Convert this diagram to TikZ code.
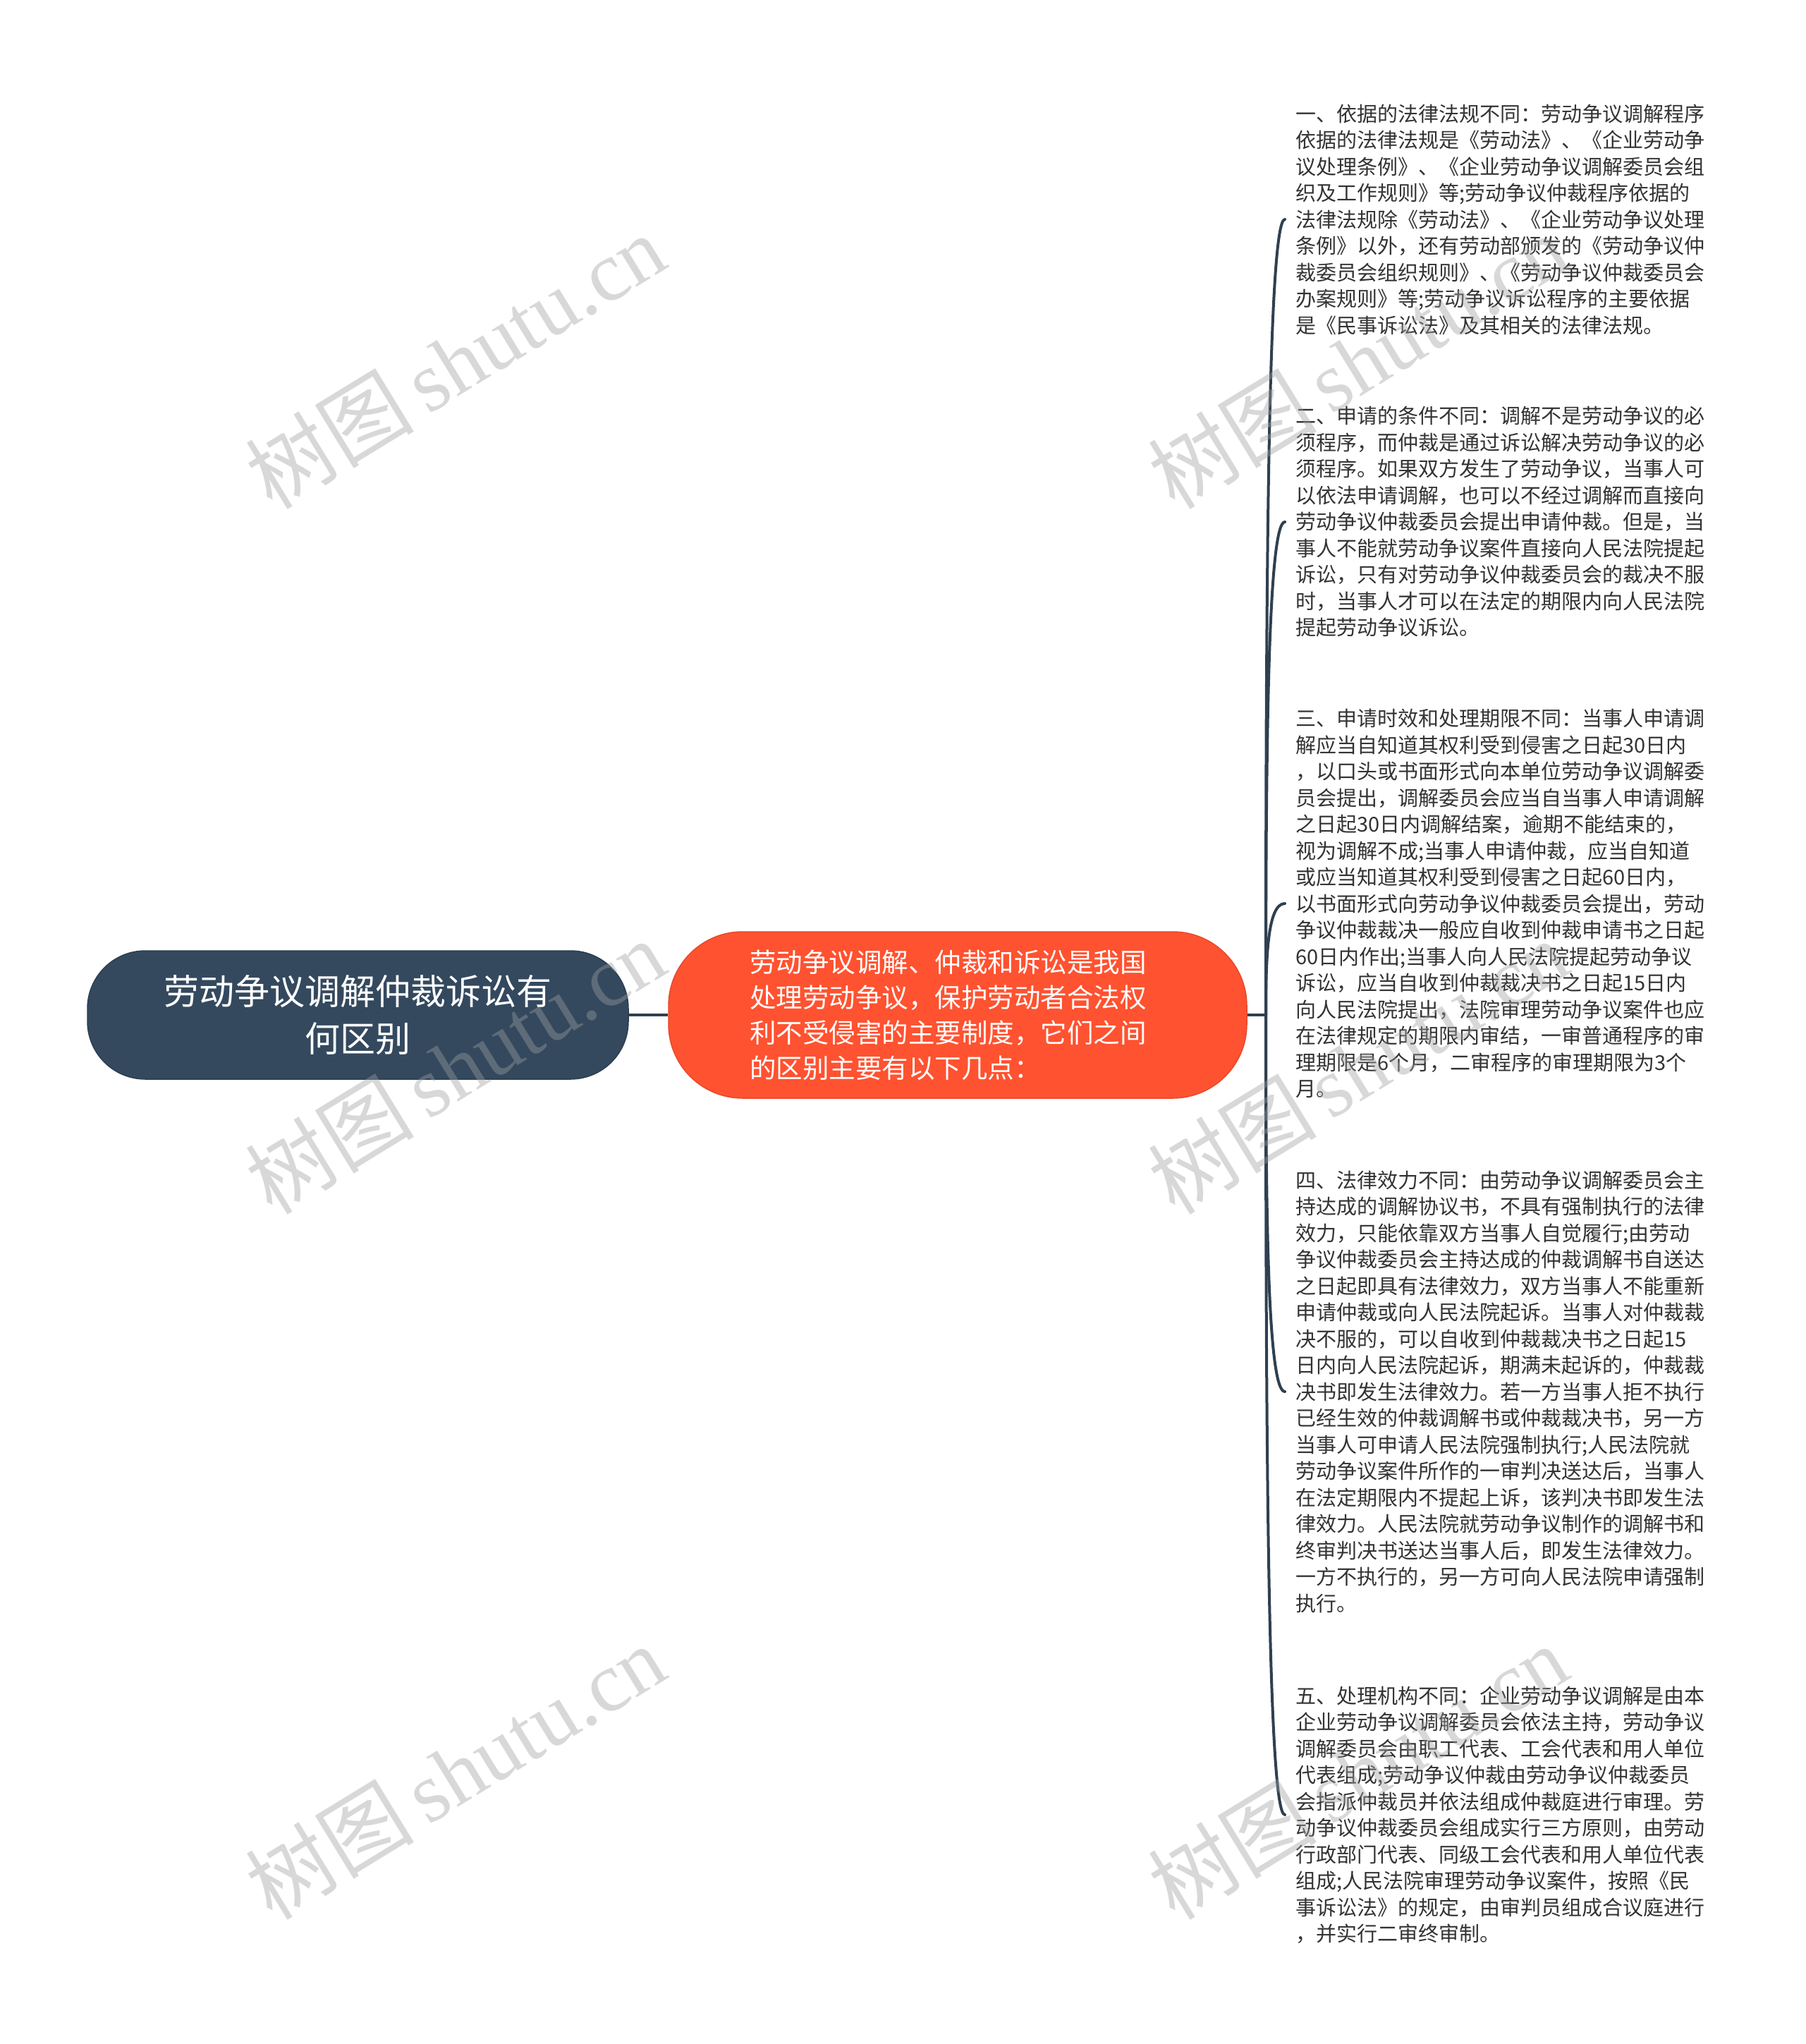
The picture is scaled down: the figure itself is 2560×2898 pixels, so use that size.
\documentclass[tikz,border=0pt]{standalone}
\usepackage{fontspec}
\setmainfont{Noto Sans CJK SC}
\newfontfamily\wmlatin{Liberation Serif}
\newfontfamily\wmcjk{Noto Sans CJK SC}
\definecolor{rootc}{HTML}{34495E}
\definecolor{rootb}{HTML}{2C3E50}
\definecolor{orangec}{HTML}{FF5230}
\definecolor{orangeb}{HTML}{E8492A}
\definecolor{linec}{HTML}{2F4050}
\definecolor{txtc}{HTML}{333333}
\begin{document}
\begin{tikzpicture}[x=1pt,y=-1pt,
  rootbox/.style={draw=rootb,line width=1.5pt,fill=rootc,rounded corners=82pt,
    minimum width=767pt,minimum height=182pt,inner sep=0pt,text=white,align=center,
    font={\fontsize{50pt}{67pt}\selectfont}},
  subbox/.style={draw=orangeb,line width=1.5pt,fill=orangec,rounded corners=105pt,
    minimum width=820pt,minimum height=236pt,inner sep=0pt,text=white,align=left,
    text width=590pt,font={\fontsize{37.5pt}{50pt}\selectfont}},
  leafbox/.style={anchor=west,inner xsep=15pt,inner ysep=0pt,text=txtc,align=left,
    font={\fontsize{29pt}{37.5pt}\selectfont}},
  conn/.style={draw=linec,line width=4pt},
  wm/.style={text=gray!75,opacity=0.4,rotate=31.5,inner sep=0pt,
    font={\fontsize{120pt}{130pt}\selectfont}}
]
\useasboundingbox[fill=white] (0,0) rectangle (2560,2898);

\node[rootbox] (root) at (507.5,1439) {劳动争议调解仲裁诉讼有\\何区别};
\node[subbox] (sub) at (1358,1439) {劳动争议调解、仲裁和诉讼是我国\\处理劳动争议，保护劳动者合法权\\利不受侵害的主要制度，它们之间\\的区别主要有以下几点：};

\coordinate (hub) at (1795,1439);

\node[leafbox] (a) at (1822,311) {一、依据的法律法规不同：劳动争议调解程序\\依据的法律法规是《劳动法》、《企业劳动争\\议处理条例》、《企业劳动争议调解委员会组\\织及工作规则》等;劳动争议仲裁程序依据的\\法律法规除《劳动法》、《企业劳动争议处理\\条例》以外，还有劳动部颁发的《劳动争议仲\\裁委员会组织规则》、《劳动争议仲裁委员会\\办案规则》等;劳动争议诉讼程序的主要依据\\是《民事诉讼法》及其相关的法律法规。};

\node[leafbox] (b) at (1822,740) {二、申请的条件不同：调解不是劳动争议的必\\须程序，而仲裁是通过诉讼解决劳动争议的必\\须程序。如果双方发生了劳动争议，当事人可\\以依法申请调解，也可以不经过调解而直接向\\劳动争议仲裁委员会提出申请仲裁。但是，当\\事人不能就劳动争议案件直接向人民法院提起\\诉讼，只有对劳动争议仲裁委员会的裁决不服\\时，当事人才可以在法定的期限内向人民法院\\提起劳动争议诉讼。};

\node[leafbox] (c) at (1822,1281) {三、申请时效和处理期限不同：当事人申请调\\解应当自知道其权利受到侵害之日起30日内\\，以口头或书面形式向本单位劳动争议调解委\\员会提出，调解委员会应当自当事人申请调解\\之日起30日内调解结案，逾期不能结束的，\\视为调解不成;当事人申请仲裁，应当自知道\\或应当知道其权利受到侵害之日起60日内，\\以书面形式向劳动争议仲裁委员会提出，劳动\\争议仲裁裁决一般应自收到仲裁申请书之日起\\60日内作出;当事人向人民法院提起劳动争议\\诉讼，应当自收到仲裁裁决书之日起15日内\\向人民法院提出，法院审理劳动争议案件也应\\在法律规定的期限内审结，一审普通程序的审\\理期限是6个月，二审程序的审理期限为3个\\月。};

\node[leafbox] (d) at (1822,1973) {四、法律效力不同：由劳动争议调解委员会主\\持达成的调解协议书，不具有强制执行的法律\\效力，只能依靠双方当事人自觉履行;由劳动\\争议仲裁委员会主持达成的仲裁调解书自送达\\之日起即具有法律效力，双方当事人不能重新\\申请仲裁或向人民法院起诉。当事人对仲裁裁\\决不服的，可以自收到仲裁裁决书之日起15\\日内向人民法院起诉，期满未起诉的，仲裁裁\\决书即发生法律效力。若一方当事人拒不执行\\已经生效的仲裁调解书或仲裁裁决书，另一方\\当事人可申请人民法院强制执行;人民法院就\\劳动争议案件所作的一审判决送达后，当事人\\在法定期限内不提起上诉，该判决书即发生法\\律效力。人民法院就劳动争议制作的调解书和\\终审判决书送达当事人后，即发生法律效力。\\一方不执行的，另一方可向人民法院申请强制\\执行。};

\node[leafbox] (e) at (1822,2573) {五、处理机构不同：企业劳动争议调解是由本\\企业劳动争议调解委员会依法主持，劳动争议\\调解委员会由职工代表、工会代表和用人单位\\代表组成;劳动争议仲裁由劳动争议仲裁委员\\会指派仲裁员并依法组成仲裁庭进行审理。劳\\动争议仲裁委员会组成实行三方原则，由劳动\\行政部门代表、同级工会代表和用人单位代表\\组成;人民法院审理劳动争议案件，按照《民\\事诉讼法》的规定，由审判员组成合议庭进行\\，并实行二审终审制。};

\draw[conn] (root.east) -- (sub.west);
\draw[conn] (sub.east) -- (hub);
\draw[conn,line cap=round] (hub) .. controls (1795,875) and (1797,311) .. (a.west);
\draw[conn,line cap=round] (hub) .. controls (1795,1089.5) and (1797,740) .. (b.west);
\draw[conn,line cap=round] (hub) .. controls (1795,1360) and (1797,1281) .. (c.west);
\draw[conn,line cap=round] (hub) .. controls (1795,1706) and (1797,1973) .. (d.west);
\draw[conn,line cap=round] (hub) .. controls (1795,2006) and (1797,2573) .. (e.west);

\foreach \i/\cx/\cy in {1/645/512,2/1925/512,3/645/1512,4/1925/1512,5/645/2512,6/1925/2512}{
  \node[wm] (wm\i) at (\cx,\cy) {{\wmcjk 树图}\,{\wmlatin shutu.cn}};
}
\end{tikzpicture}
\end{document}
